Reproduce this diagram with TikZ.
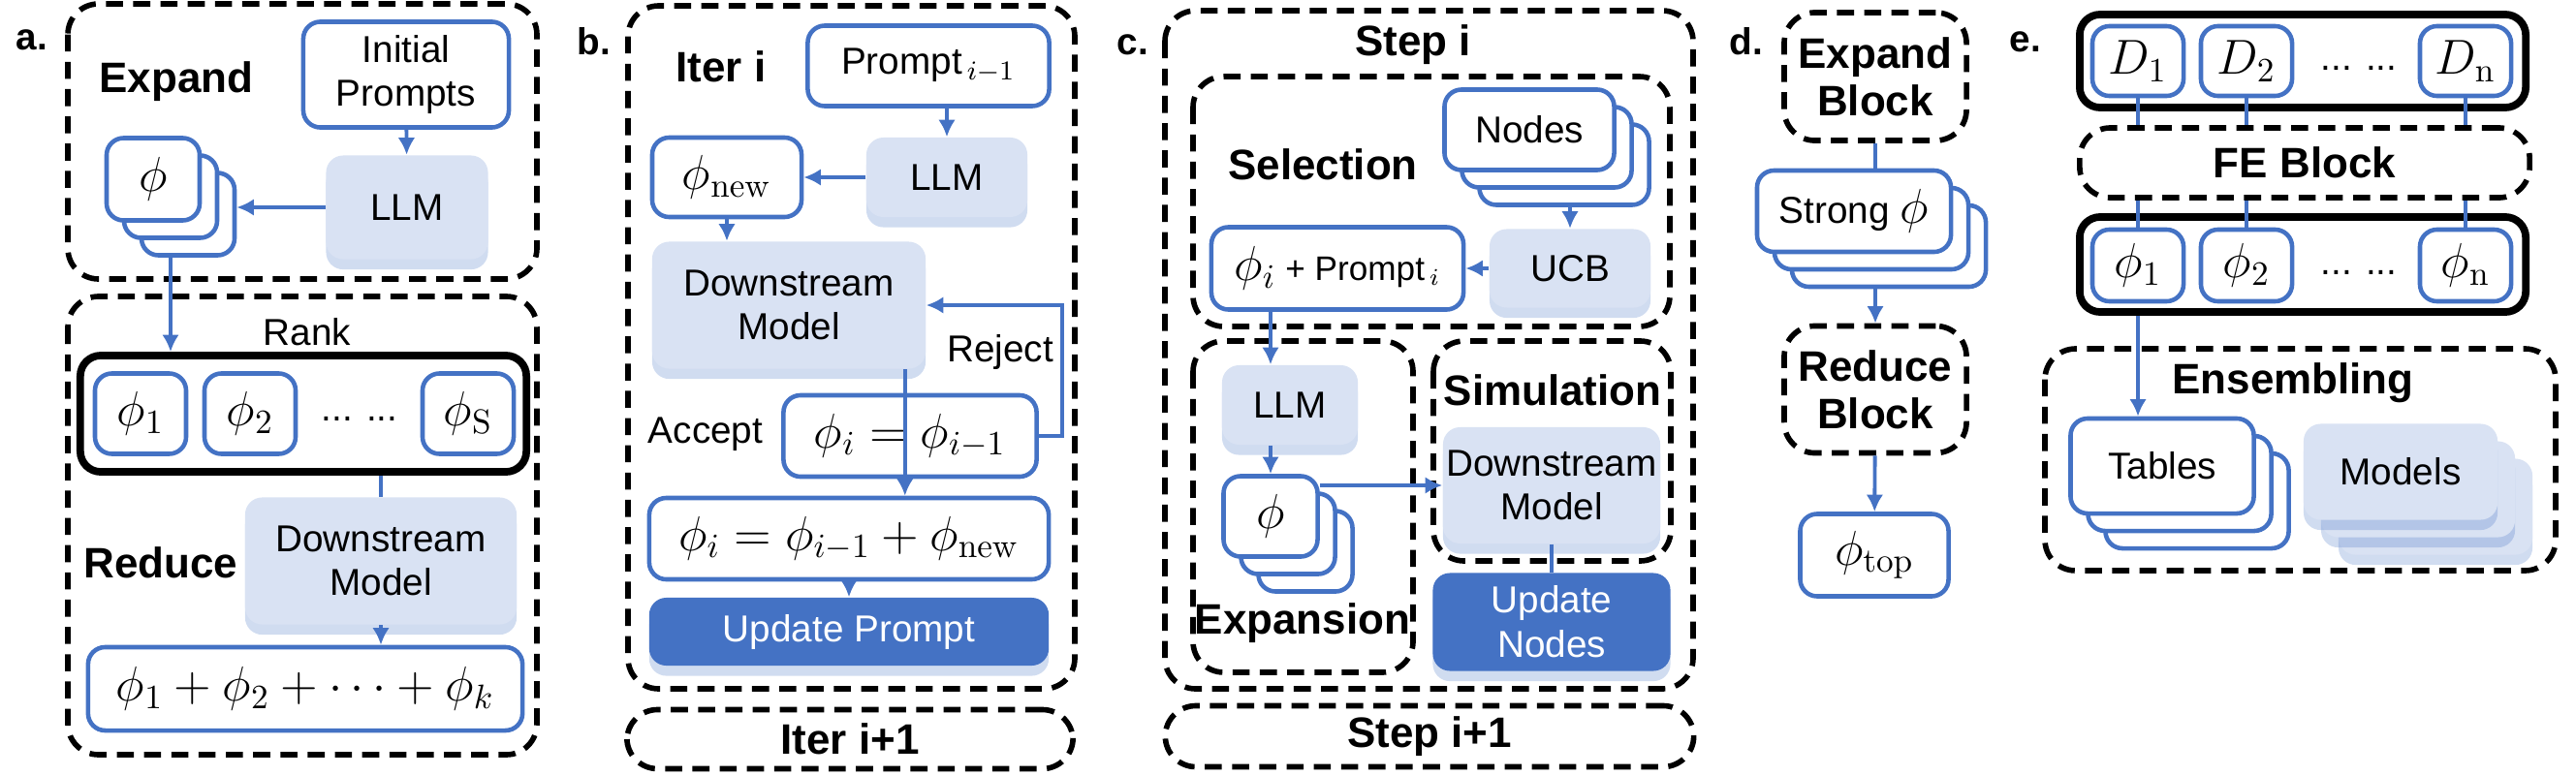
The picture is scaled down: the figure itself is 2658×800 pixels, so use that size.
\documentclass[tikz,border=0pt]{standalone}
\usepackage[no-math]{fontspec}
\setmainfont{Liberation Sans}
\usepackage{amsmath}
\usetikzlibrary{arrows.meta,shadows,calc}
\definecolor{bblue}{HTML}{4472C4}
\definecolor{lblue}{HTML}{D9E2F3}
\tikzset{
  every node/.style={font=\fontsize{11}{13}\selectfont},
  wbox/.style={draw=bblue,line width=1.3pt,rounded corners=5pt,fill=white,align=center,inner sep=1pt},
  fbox/.style={fill=lblue,rounded corners=5pt,align=center,inner sep=1pt,
    drop shadow={shadow xshift=0pt,shadow yshift=-3pt,fill=bblue,opacity=0.25}},
  dbox/.style={fill=bblue,rounded corners=5pt,align=center,text=white,inner sep=1pt,
    drop shadow={shadow xshift=0pt,shadow yshift=-3pt,fill=bblue,opacity=0.25}},
  kbox/.style={draw=black,line width=2.2pt,rounded corners=6pt},
  dsh/.style={draw=black,line width=1.6pt,dash pattern=on 5pt off 3pt,rounded corners=9pt},
  arr/.style={bblue,line width=1.1pt,-{Latex[length=5pt,width=5pt]}},
  ln/.style={bblue,line width=1.1pt},
  ttl/.style={font=\fontsize{12.5}{14}\selectfont\bfseries},
  lab/.style={font=\fontsize{11}{13}\selectfont\bfseries},
}
\begin{document}
\begin{tikzpicture}[x=0.01cm,y=-0.01cm]
\useasboundingbox (0,0) rectangle (2658,800);

% a. expand / reduce
\node[lab] (la) at (33,41) {a.};
\draw[dsh] (70,4) rectangle (554,288);
\node[ttl] (expA) at (182,84) {Expand};
\node[wbox,minimum width=2.12cm,minimum height=1.09cm] (init) at (419,77) {Initial\\Prompts};
\node[fbox,minimum width=1.67cm,minimum height=1.07cm] (llmA) at (420,214) {LLM};
\node[wbox,minimum width=0.96cm,minimum height=0.85cm] (phiA3) at (194,221) {};
\node[wbox,minimum width=0.96cm,minimum height=0.85cm] (phiA2) at (176,203) {};
\node[wbox,minimum width=0.96cm,minimum height=0.85cm] (phiA) at (158,185) {\Large$\phi$};
\draw[arr] (init) -- (llmA);
\draw[arr] (llmA.west) -- (llmA.west -| phiA3.east);
\draw[dsh] (70,306) rectangle (554,779);
\node[kbox,minimum width=4.6cm,minimum height=1.2cm] (rankA) at (313,427) {};
\node (rank) at (317,343) {Rank};
\node[wbox,minimum width=0.94cm,minimum height=0.83cm] (p1) at (145,427) {\Large$\phi_1$};
\node[wbox,minimum width=0.94cm,minimum height=0.83cm] (p2) at (258,427) {\Large$\phi_2$};
\node[wbox,minimum width=0.94cm,minimum height=0.83cm] (pS) at (483,427) {\Large$\phi_{\mathrm{S}}$};
\node (dotsA) at (371,432) {... ...};
\draw[arr] (phiA3.south -| phiA2) -- (phiA2 |- rankA.north);
\node[ttl] (redA) at (166,581) {Reduce};
\node[fbox,minimum width=2.8cm,minimum height=1.31cm] (dmA) at (393,579) {Downstream\\Model};
\node[wbox,minimum width=4.48cm,minimum height=0.86cm] (sumA) at (315,711) {\Large$\phi_1+\phi_2+\cdots+\phi_k$};
\draw[ln] (rankA.south -| dmA) -- (dmA.north);
\draw[arr] (dmA) -- (dmA |- sumA.north);

% b. iterations
\node[lab] (lb) at (613,43) {b.};
\draw[dsh] (648,6) rectangle (1109,711);
\node[ttl] (iter) at (744,69) {Iter i};
\node[wbox,minimum width=2.49cm,minimum height=0.83cm] (prm) at (958,68) {Prompt$_{\,i-1}$};
\node[fbox,minimum width=1.66cm,minimum height=0.82cm] (llmB) at (977,183) {LLM};
\node[wbox,minimum width=1.54cm,minimum height=0.82cm] (pnew) at (750,183) {\Large$\phi_{\mathrm{new}}$};
\node[fbox,minimum width=2.82cm,minimum height=1.31cm] (dmB) at (814,315) {Downstream\\Model};
\node[wbox,minimum width=2.61cm,minimum height=0.84cm] (prev) at (939,450) {\Large$\phi_i=\phi_{i-1}$};
\node[wbox,minimum width=4.12cm,minimum height=0.84cm] (sumB) at (876,556) {\Large$\phi_i=\phi_{i-1}+\phi_{\mathrm{new}}$};
\node[dbox,minimum width=4.12cm,minimum height=0.7cm] (upd) at (876,652) {Update Prompt};
\node (acc) at (728,448) {Accept};
\node (rej) at (1032,363) {Reject};
\draw[arr] (prm.south -| llmB) -- (llmB);
\draw[arr] (llmB) -- (pnew);
\draw[arr] (pnew) -- (pnew |- dmB.north);
\draw[arr] (prev.east) -- ++(24,0) |- (dmB.east);
\draw[arr] (dmB.south east) ++(-22,0) coordinate (acc0) -- (acc0 |- sumB.north);
\draw[arr] (sumB.south -| upd) -- (upd);
\node[dsh,minimum width=4.6cm,minimum height=0.61cm] (nextB) at (877,763) {};
\node[ttl] at (nextB) {Iter i+1};

% c. tree search
\node[lab] (lc) at (1169,46) {c.};
\draw[dsh] (1202,11) rectangle (1747,711);
\node[ttl] (step) at (1458,46) {Step i};
\draw[dsh] (1231,79) rectangle (1723,337);
\node[ttl] (sel) at (1365,170) {Selection};
\node[wbox,minimum width=1.75cm,minimum height=0.83cm] (nd3) at (1614,170) {};
\node[wbox,minimum width=1.75cm,minimum height=0.83cm] (nd2) at (1596,152) {};
\node[wbox,minimum width=1.75cm,minimum height=0.83cm] (nd) at (1578,134) {Nodes};
\node[fbox,minimum width=1.66cm,minimum height=0.81cm] (ucb) at (1620,277) {UCB};
\node[wbox,minimum width=2.6cm,minimum height=0.85cm] (phiP) at (1380,277) {\Large$\phi_i$\normalsize{} + Prompt$_{\,i}$};
\draw[arr] (nd3.south -| ucb) -- (ucb);
\draw[arr] (ucb) -- (phiP);
\draw[dsh] (1231,352) rectangle (1458,694);
\node[fbox,minimum width=1.4cm,minimum height=0.82cm] (llmC) at (1331,418) {LLM};
\node[wbox,minimum width=0.97cm,minimum height=0.83cm] (phiC3) at (1347,569) {};
\node[wbox,minimum width=0.97cm,minimum height=0.83cm] (phiC2) at (1329,551) {};
\node[wbox,minimum width=0.97cm,minimum height=0.83cm] (phiC) at (1311,533) {\Large$\phi$};
\node[ttl] (expn) at (1344,643) {Expansion};
\draw[arr] (phiP.south -| phiC) -- (phiC |- llmC.north);
\draw[arr] (llmC.south -| phiC) -- (phiC);
\draw[dsh] (1479,352) rectangle (1724,579);
\node[ttl] (sim) at (1602,403) {Simulation};
\node[fbox,minimum width=2.21cm,minimum height=1.2cm] (dmC) at (1601,501) {Downstream\\Model};
\node[dbox,minimum width=2.45cm,minimum height=1.01cm] (updN) at (1601,642) {Update\\Nodes};
\draw[arr] (phiC.east |- dmC.west) -- (dmC.west);
\draw[ln] (dmC) -- (updN);
\node[dsh,minimum width=5.45cm,minimum height=0.63cm] (nextC) at (1475,760) {};
\node[ttl] at (nextC) {Step i+1};

% d. blocks
\node[lab] (ld) at (1802,43) {d.};
\node[dsh,minimum width=1.88cm,minimum height=1.32cm] (expB) at (1935,79) {};
\node[ttl,align=center] at (expB) {Expand\\Block};
\node[wbox,minimum width=2cm,minimum height=0.84cm] (st3) at (1949,254) {};
\node[wbox,minimum width=2cm,minimum height=0.84cm] (st2) at (1931,236) {};
\node[wbox,minimum width=2cm,minimum height=0.84cm] (st) at (1913,218) {Strong \Large$\phi$};
\node[dsh,minimum width=1.88cm,minimum height=1.31cm] (redB) at (1935,402) {};
\node[ttl,align=center] at (redB) {Reduce\\Block};
\node[wbox,minimum width=1.53cm,minimum height=0.85cm] (ptop) at (1934,573) {\Large$\phi_{\mathrm{top}}$};
\draw[ln] (expB) -- (expB |- st.north);
\draw[arr] (st3.south -| redB) -- (redB);
\draw[arr] (redB) -- (ptop);

% e. ensembling
\node[lab] (le) at (2090,43) {e.};
\node[kbox,minimum width=4.6cm,minimum height=0.96cm] (drow) at (2376,63) {};
\node[wbox,minimum width=0.94cm,minimum height=0.72cm] (d1) at (2206,63) {\Large$D_1$};
\node[wbox,minimum width=0.94cm,minimum height=0.72cm] (d2) at (2318,63) {\Large$D_2$};
\node[wbox,minimum width=0.94cm,minimum height=0.72cm] (dn) at (2544,63) {\Large$D_{\mathrm{n}}$};
\node (dotsD) at (2434,70) {... ...};
\node[dsh,minimum width=4.64cm,minimum height=0.72cm] (fe) at (2378,168) {};
\node[ttl] at (fe) {FE Block};
\node[kbox,minimum width=4.6cm,minimum height=0.98cm] (frow) at (2376,273) {};
\node[wbox,minimum width=0.94cm,minimum height=0.74cm] (f1) at (2206,274) {\Large$\phi_1$};
\node[wbox,minimum width=0.94cm,minimum height=0.74cm] (f2) at (2318,274) {\Large$\phi_2$};
\node[wbox,minimum width=0.94cm,minimum height=0.74cm] (fn) at (2544,274) {\Large$\phi_{\mathrm{n}}$};
\node (dotsF) at (2434,281) {... ...};
\foreach \a/\b in {d1/f1,d2/f2,dn/fn} {
  \draw[ln] (\a.south) -- (\a |- fe.north);
  \draw[ln] (\b |- fe.south) -- (\b.north);
}
\draw[dsh] (2110,360) rectangle (2637,589);
\node[ttl] (ens) at (2366,395) {Ensembling};
\node[wbox,minimum width=1.89cm,minimum height=0.98cm] (tb3) at (2267,517) {};
\node[wbox,minimum width=1.89cm,minimum height=0.98cm] (tb2) at (2249,499) {};
\node[wbox,minimum width=1.89cm,minimum height=0.98cm] (tb) at (2231,481) {Tables};
\node[fbox,minimum width=2cm,minimum height=0.99cm] (md3) at (2513,523) {};
\node[fbox,minimum width=2cm,minimum height=0.99cm] (md2) at (2495,505) {};
\node[fbox,minimum width=2cm,minimum height=0.99cm] (md) at (2477,487) {Models};
\draw[arr] (frow.south -| f1) -- (f1 |- tb.north);
\end{tikzpicture}
\end{document}
